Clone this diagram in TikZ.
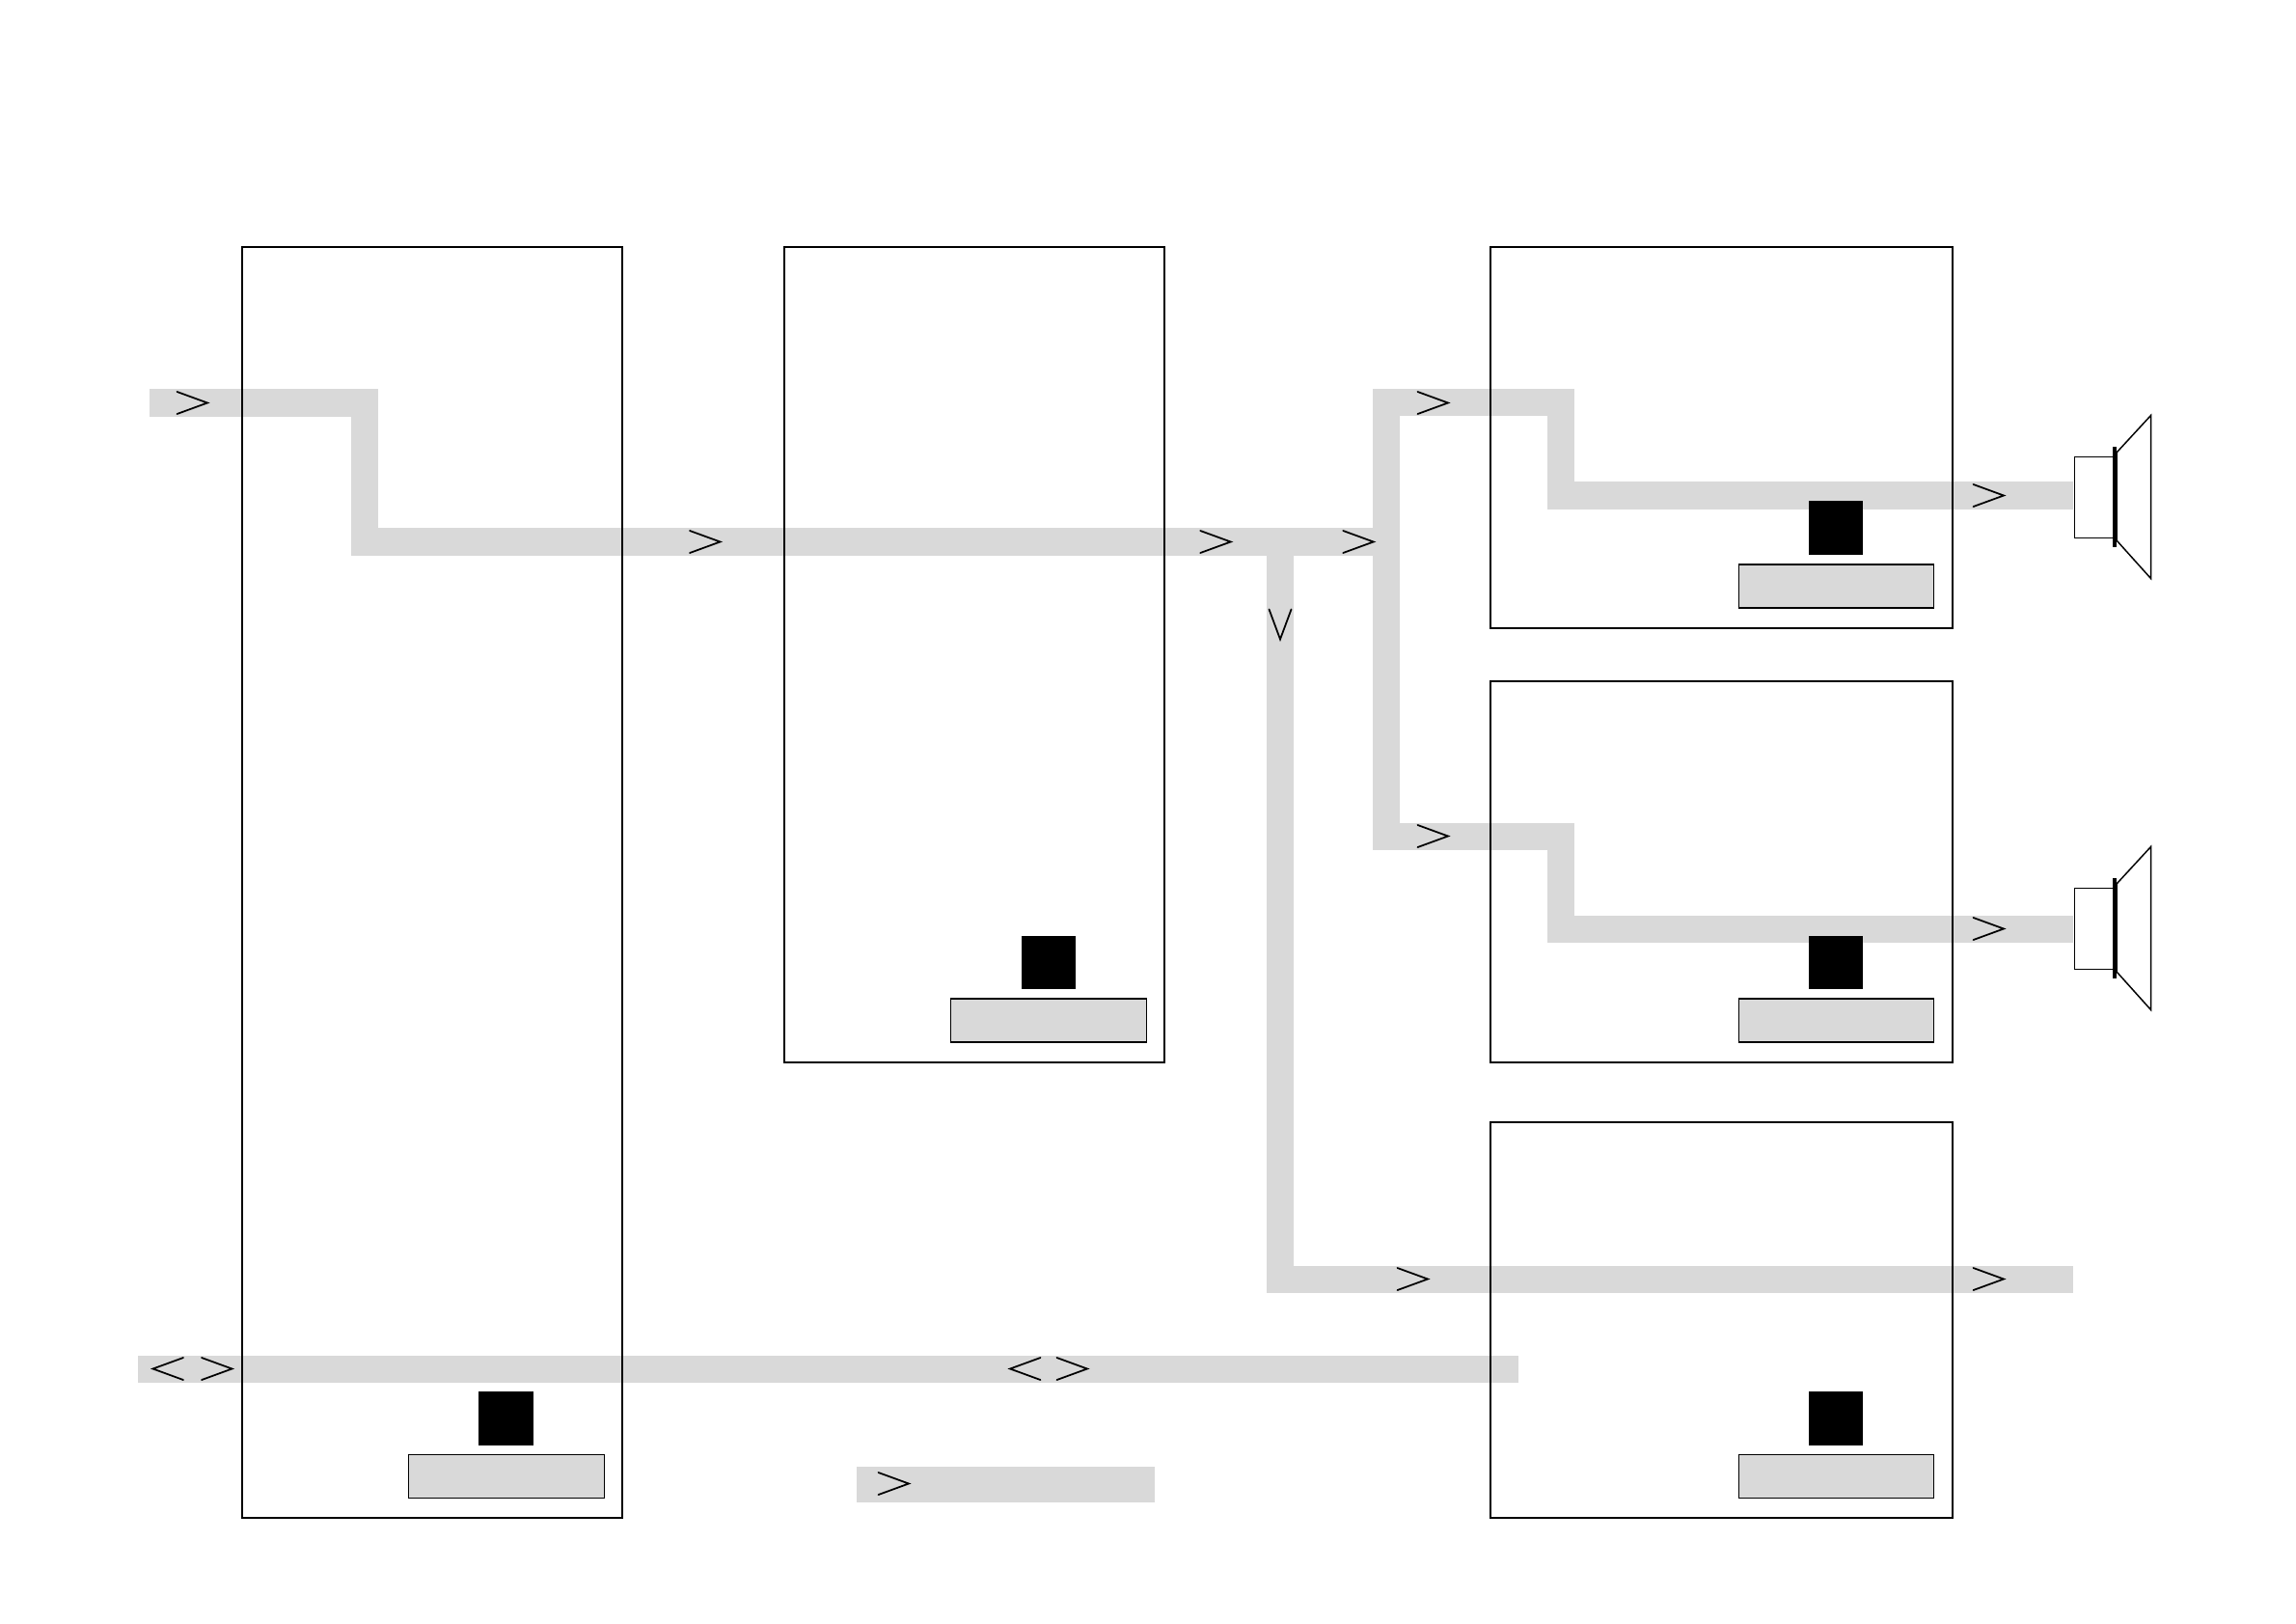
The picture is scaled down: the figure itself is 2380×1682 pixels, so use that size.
\documentclass[tikz,border=0pt]{standalone}
\definecolor{band}{HTML}{D9D9D9}
\tikzset{
  x=0.01cm,y=-0.01cm,
  bandline/.style={draw=band,line width=0.28cm,line cap=butt,line join=miter},
  bandbox/.style={fill=band,draw=none,inner sep=0pt,outer sep=0pt},
  frame/.style={draw=black,line width=0.57pt,inner sep=0pt,outer sep=0pt},
  blocksq/.style={fill=black,draw=none,inner sep=0pt,outer sep=0pt},
  panel/.style={fill=band,draw=black,line width=0.4pt,inner sep=0pt,outer sep=0pt},
  chev/.style={draw=black,line width=0.5pt,line cap=round,line join=miter},
  spkline/.style={draw=black,line width=0.42pt,fill=white,inner sep=0pt,outer sep=0pt},
  gt/.pic={\draw[chev] (1.5,-11.5)--(33,0)--(1.5,11.5);},
  lt/.pic={\draw[chev] (32.5,-11.5)--(1,0)--(32.5,11.5);},
  dn/.pic={\draw[chev] (-11.5,1)--(0,32)--(11.5,1);},
  speaker/.pic={
    \draw[spkline] (2150.3,473.5)--(2190.7,473.5)--(2190.7,557.5)--(2150.3,557.5)--cycle;
    \draw[spkline] (2194,469)--(2229.5,430.5)--(2229.5,599.5)--(2194,560)--cycle;
    \fill[black] (2190,463) rectangle (2194,567);
  }
}
% \boxn[style]{name}{x1}{y1}{x2}{y2}
\newcommand{\boxn}[6][frame]{%
  \pgfmathsetmacro{\bcx}{(#3+#5)/2}%
  \pgfmathsetmacro{\bcy}{(#4+#6)/2}%
  \pgfmathsetmacro{\bw}{(#5-#3)/100}%
  \pgfmathsetmacro{\bh}{(#6-#4)/100}%
  \node[#1,minimum width=\bw cm,minimum height=\bh cm] (#2) at (\bcx,\bcy) {};%
}
\begin{document}
\begin{tikzpicture}
\useasboundingbox[fill=white] (0,0) rectangle (2380,1682);

% waypoints
\coordinate (inA) at (155,417.5);
\coordinate (inB) at (378,417.5);
\coordinate (inC) at (378,561.5);
\coordinate (busJ) at (1327,561.5);
\coordinate (busE) at (1437,561.5);
\coordinate (upT) at (1437,417);
\coordinate (upK) at (1618,417);
\coordinate (upL) at (1618,513.5);
\coordinate (upR) at (2149,513.5);
\coordinate (loT) at (1437,866.5);
\coordinate (loK) at (1618,866.5);
\coordinate (loL) at (1618,962.5);
\coordinate (loR) at (2149,962.5);
\coordinate (dnL) at (1327,1325.5);
\coordinate (dnR) at (2149,1325.5);
\coordinate (biL) at (143,1418.5);
\coordinate (biR) at (1574,1418.5);

% bands
\draw[bandline] (inA)--(inB)--(inC)--(busE);
\draw[bandline] (upR)--(upL)--(upK)--(upT)--(loT)--(loK)--(loL)--(loR);
\draw[bandline] (busJ)--(dnL)--(dnR);
\draw[bandline] (biL)--(biR);
\boxn[bandbox]{legend}{888}{1520}{1197}{1556.5}

% main frames
\boxn{boxA}{251.5}{256.5}{645}{1572.5}
\boxn{boxB}{813.5}{256.5}{1207}{1100.5}
\boxn{boxC}{1545}{256.5}{2024}{650.5}
\boxn{boxD}{1545}{706.5}{2024}{1100.5}
\boxn{boxE}{1545}{1163.5}{2024}{1572.5}

% black squares
\boxn[blocksq]{sqA}{496}{1442}{553}{1498}
\boxn[blocksq]{sqB}{1059}{969.5}{1115}{1025}
\boxn[blocksq]{sqC}{1875}{519.5}{1931}{575}
\boxn[blocksq]{sqD}{1875}{969.5}{1931}{1025}
\boxn[blocksq]{sqE}{1875}{1442}{1931}{1498}

% grey panels
\boxn[panel]{paA}{423.5}{1507.5}{626.5}{1552.5}
\boxn[panel]{paB}{985.5}{1035}{1188.5}{1080}
\boxn[panel]{paC}{1802.5}{585}{2004.5}{630}
\boxn[panel]{paD}{1802.5}{1035}{2004.5}{1080}
\boxn[panel]{paE}{1802.5}{1507.5}{2004.5}{1552.5}

% chevrons
\path (182,417.5) pic {gt};
\path (713.5,561.5) pic {gt};
\path (1242.7,561.5) pic {gt};
\path (1390.7,561.5) pic {gt};
\path (1468,417.5) pic {gt};
\path (2044,513.5) pic {gt};
\path (1468,866.5) pic {gt};
\path (2044,962.5) pic {gt};
\path (1447,1325.5) pic {gt};
\path (2044,1325.5) pic {gt};
\path (1327,630.5) pic {dn};
\path (157.5,1418.5) pic {lt};
\path (207.5,1418.5) pic {gt};
\path (1046,1418.5) pic {lt};
\path (1094,1418.5) pic {gt};
\path (909,1537.5) pic {gt};

% speakers
\path (0,0) pic {speaker};
\path (0,447) pic {speaker};
\end{tikzpicture}
\end{document}
